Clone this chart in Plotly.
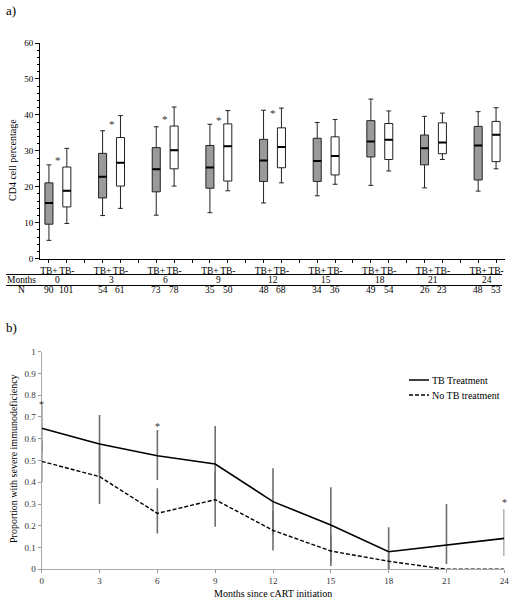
import plotly.graph_objects as go

# ---------------- data: panel a) ----------------
months = [0, 3, 6, 9, 12, 15, 18, 21, 24]
tbp_low = [5.1, 12.0, 12.1, 12.8, 15.5, 17.5, 20.4, 19.7, 18.8]
tbp_q1 = [9.6, 16.9, 18.6, 19.6, 21.5, 21.5, 28.3, 26.1, 21.9]
tbp_med = [15.5, 22.8, 24.9, 25.4, 27.3, 27.2, 32.6, 30.7, 31.5]
tbp_q3 = [21.1, 29.3, 30.9, 31.5, 33.2, 33.5, 38.4, 34.4, 36.8]
tbp_high = [26.1, 35.6, 36.7, 37.4, 41.3, 37.9, 44.4, 39.6, 40.9]

tbn_low = [9.8, 14.0, 20.2, 18.9, 21.1, 20.7, 24.4, 27.6, 25.0]
tbn_q1 = [14.4, 20.2, 25.0, 21.6, 25.3, 23.3, 27.6, 29.2, 27.0]
tbn_med = [18.9, 26.7, 30.2, 31.3, 31.1, 28.6, 33.1, 32.3, 34.5]
tbn_q3 = [25.5, 33.7, 36.9, 37.5, 36.4, 33.9, 37.6, 37.8, 38.2]
tbn_high = [30.7, 39.8, 42.2, 41.2, 41.9, 38.7, 41.1, 40.5, 42.0]

n_tbp = [90, 54, 73, 35, 48, 34, 49, 26, 48]
n_tbn = [101, 61, 78, 50, 68, 36, 54, 23, 53]

sig_months_a = [0, 3, 6, 9, 12]
sig_y_a = [28.3, 38.3, 39.8, 39.3, 41.3]

# ---------------- data: panel b) ----------------
tb_prop = [0.648, 0.576, 0.522, 0.484, 0.311, 0.204, 0.081, 0.113, 0.142]
tb_lo = [0.54, 0.438, 0.41, 0.31, 0.16, 0.03, 0.0, 0.024, 0.061]
tb_hi = [0.755, 0.709, 0.64, 0.659, 0.464, 0.377, 0.193, 0.30, 0.277]
notb_prop = [0.496, 0.426, 0.257, 0.320, 0.179, 0.084, 0.037, 0.0, 0.0]
notb_lo = [0.40, 0.30, 0.165, 0.196, 0.086, 0.015, 0.0, 0.0, 0.0]
notb_hi = [0.59, 0.563, 0.372, 0.45, 0.27, 0.155, 0.08, 0.0, 0.0]
sig_months_b = [0, 6, 24]
sig_y_b = [0.77, 0.671, 0.323]

series_names = ["TB Treatment", "No TB treatment"]

W, H = 513, 600
FONT = "Liberation Serif"
DASH = "4px,2px"


def px(x):
    return x / W


def py(y):
    return 1 - y / H


def ptext(text, x, y, size=10, xanchor="center", angle=0, color="black"):
    return dict(text=text, x=px(x), y=py(y), xref="paper", yref="paper",
                xanchor=xanchor, yanchor="middle", textangle=angle, showarrow=False,
                font=dict(size=size, family=FONT, color=color))


# slot positions: TB+ at 3i, TB- at 3i+1
xp = [3 * i for i in range(len(months))]
xn = [3 * i + 1 for i in range(len(months))]

fig = go.Figure()

fig.add_trace(go.Box(
    x=xp, q1=tbp_q1, median=tbp_med, q3=tbp_q3,
    lowerfence=tbp_low, upperfence=tbp_high,
    width=0.45, whiskerwidth=0.6,
    fillcolor="#9a9a9a", line=dict(color="#222", width=1),
    xaxis="x", yaxis="y", showlegend=False, hoverinfo="skip"))
fig.add_trace(go.Box(
    x=xn, q1=tbn_q1, median=tbn_med, q3=tbn_q3,
    lowerfence=tbn_low, upperfence=tbn_high,
    width=0.45, whiskerwidth=0.6,
    fillcolor="white", line=dict(color="#222", width=1),
    xaxis="x", yaxis="y", showlegend=False, hoverinfo="skip"))

# bold median lines
mx, my = [], []
for xs, meds in ((xp, tbp_med), (xn, tbn_med)):
    for x, m in zip(xs, meds):
        mx += [x - 0.225, x + 0.225, None]
        my += [m, m, None]
fig.add_trace(go.Scatter(x=mx, y=my, mode="lines",
                         line=dict(color="black", width=2),
                         xaxis="x", yaxis="y", showlegend=False, hoverinfo="skip"))

# panel b traces
fig.add_trace(go.Scatter(
    x=months, y=tb_prop, mode="lines", name=series_names[0], showlegend=False,
    line=dict(color="black", width=1.6),
    error_y=dict(type="data", symmetric=False,
                 array=[h - v for h, v in zip(tb_hi, tb_prop)],
                 arrayminus=[v - l for v, l in zip(tb_prop, tb_lo)],
                 color="#6e6e6e", thickness=1.6, width=0),
    xaxis="x2", yaxis="y2"))
fig.add_trace(go.Scatter(
    x=months, y=notb_prop, mode="lines", name=series_names[1], showlegend=False,
    line=dict(color="black", width=1.4, dash=DASH),
    error_y=dict(type="data", symmetric=False,
                 array=[h - v for h, v in zip(notb_hi, notb_prop)],
                 arrayminus=[v - l for v, l in zip(notb_prop, notb_lo)],
                 color="#6e6e6e", thickness=1.6, width=0),
    xaxis="x2", yaxis="y2"))

# tick labels for panel a
tickvals, ticktext = [], []
for i in range(len(months)):
    tickvals += [3 * i, 3 * i + 1]
    ticktext += ["TB+", "TB-"]
    if i < len(months) - 1:
        tickvals.append(3 * i + 2)
        ticktext.append("")

annotations = []
shapes = []

annotations.append(ptext("a)", 4, 10, size=13, xanchor="left"))
annotations.append(ptext("b)", 4, 327, size=13, xanchor="left"))
annotations.append(ptext("CD4 cell percentage", 13, 160, angle=-90))
annotations.append(ptext("Proportion with severe immunodeficiency", 13, 459, angle=-90))
annotations.append(ptext("Months since cART initiation", 273, 593))

# legend (drawn as key)
for k, (name, dash) in enumerate(zip(series_names, ["solid", DASH])):
    yy = 380 + 15 * k
    shapes.append(dict(type="line", xref="paper", yref="paper",
                       x0=px(409), x1=px(429), y0=py(yy), y1=py(yy),
                       line=dict(color="black", width=1.5, dash=dash)))
    annotations.append(ptext(name, 430, yy, xanchor="left"))

# significance stars
for m, yv in zip(sig_months_a, sig_y_a):
    i = months.index(m)
    annotations.append(dict(text="*", x=3 * i + 0.5, y=yv, xref="x", yref="y",
                            xanchor="center", yanchor="middle",
                            showarrow=False, yshift=-3,
                            font=dict(size=11, family=FONT, color="#333")))
for m, yv in zip(sig_months_b, sig_y_b):
    annotations.append(dict(text="*", x=m, y=yv, xref="x2", yref="y2",
                            xanchor="center", yanchor="middle",
                            showarrow=False, yshift=-3,
                            font=dict(size=10, family=FONT, color="#333")))

# table under panel a
annotations.append(ptext("Months", 21, 280.3, size=9.5))
annotations.append(ptext("N", 21, 290.3, size=9.5))
for i, m in enumerate(months):
    for txt, xv, yv in ((str(m), 3 * i + 0.5, 280.3),
                        (str(n_tbp[i]), 3 * i, 290.3),
                        (str(n_tbn[i]), 3 * i + 1, 290.3)):
        annotations.append(dict(text=txt, x=xv, y=py(yv), xref="x", yref="paper",
                                xanchor="center", yanchor="middle", showarrow=False,
                                font=dict(size=9.5, family=FONT, color="black")))

for yy in (274.5, 285.5):
    shapes.append(dict(type="line", xref="paper", yref="paper",
                       x0=px(6), x1=px(502), y0=py(yy), y1=py(yy),
                       line=dict(color="black", width=1)))

fig.update_layout(
    width=W, height=H,
    margin=dict(l=0, r=0, t=0, b=0, autoexpand=False),
    paper_bgcolor="white", plot_bgcolor="white",
    font=dict(family=FONT, color="black", size=9),
    boxmode="overlay",
    showlegend=False,
    xaxis=dict(domain=[px(40), px(505)], range=[-0.5, 25.5], anchor="y",
               tickvals=tickvals, ticktext=ticktext, ticks="outside", ticklen=3,
               tickangle=0, automargin=False,
               tickcolor="black", showline=True, linecolor="black", linewidth=1,
               showgrid=False, zeroline=False, tickfont=dict(size=9.5, family=FONT)),
    yaxis=dict(domain=[py(258.7), py(43)], range=[0, 60], anchor="x", automargin=False,
               tickvals=list(range(0, 61, 10)), ticks="outside", ticklen=4,
               tickcolor="black", showline=True, linecolor="black", linewidth=1,
               showgrid=False, zeroline=False, tickfont=dict(size=9, family=FONT),
               minor=dict(dtick=2, ticks="outside", ticklen=2, tickcolor="black")),
    xaxis2=dict(domain=[px(41.7), px(504.3)], range=[0, 24], anchor="y2",
                tickvals=months, ticks="outside", ticklen=3, tickcolor="#999",
                tickangle=0, automargin=False,
                showline=True, linecolor="#aaa", linewidth=1.2,
                showgrid=False, zeroline=False,
                tickfont=dict(size=9, family=FONT, color="#333")),
    yaxis2=dict(domain=[py(569.3), py(351.7)], range=[0, 1], anchor="x2", automargin=False,
                tickvals=[round(0.1 * k, 1) for k in range(11)],
                ticktext=["0"] + [str(round(0.1 * k, 1)) for k in range(1, 10)] + ["1"],
                ticks="outside", ticklen=3, tickcolor="#999",
                showline=True, linecolor="#aaa", linewidth=1.2,
                showgrid=False, zeroline=False,
                tickfont=dict(size=9, family=FONT, color="#333")),
    annotations=annotations,
    shapes=shapes,
)

fig.write_html("out.html", config={"displayModeBar": False},
               post_script="document.body.style.margin='0';document.body.style.overflow='hidden';")
